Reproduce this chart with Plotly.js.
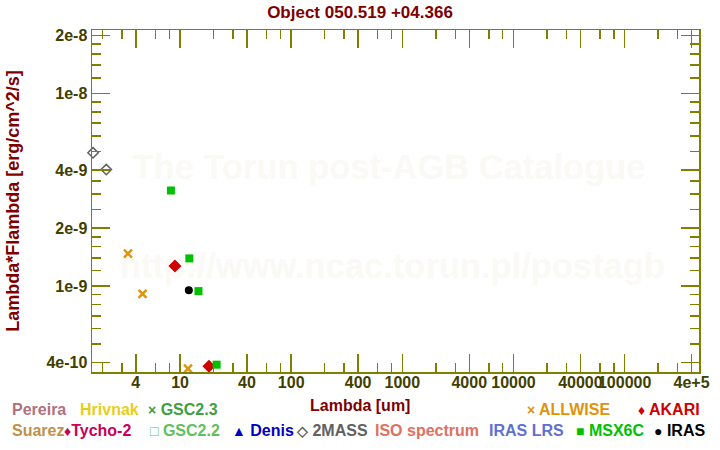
<!DOCTYPE html>
<html>
<head>
<meta charset="utf-8">
<script src="https://cdn.plot.ly/plotly-3.0.1.min.js"></script>
<style>html,body{margin:0;padding:0;background:#fff;}#chart{width:720px;height:450px;}</style>
</head>
<body>
<div id="chart"></div>
<script>
// ---- data ----
var twomassX = [1.65, 2.17];
var twomassY = [4.91e-9, 4.02e-9];
var allwiseX = [3.4, 4.6, 11.8];
var allwiseY = [1.47e-9, 9.1e-10, 3.72e-10];
var akariX = [9.0, 18.2];
var akariY = [1.27e-9, 3.83e-10];
var msxX = [8.28, 12.13, 14.65, 21.34];
var msxY = [3.13e-9, 1.39e-9, 9.4e-10, 3.9e-10];
var irasX = [12.0];
var irasY = [9.5e-10];

var xTickVals = [4, 10, 40, 100, 400, 1000, 4000, 10000, 40000, 100000, 400000];
var xTickText = ['4', '10', '40', '100', '400', '1000', '4000', '10000', '40000', '100000', '4e+5'];
var xMinorVals = [2, 3, 6, 8, 20, 30, 60, 80, 200, 300, 600, 800, 2000, 3000, 6000, 8000,
                  20000, 30000, 60000, 80000, 200000, 300000];
var yTickVals = [4e-10, 1e-9, 2e-9, 4e-9, 1e-8, 2e-8];
var yTickText = ['4e-10', '1e-9', '2e-9', '4e-9', '1e-8', '2e-8'];
var yMinorVals = [5e-10, 6e-10, 7e-10, 8e-10, 9e-10, 1.2e-9, 1.4e-9, 1.6e-9, 1.8e-9,
                  2.5e-9, 3e-9, 3.5e-9, 5e-9, 6e-9, 7e-9, 8e-9, 9e-9,
                  1.2e-8, 1.4e-8, 1.6e-8, 1.8e-8];

var legendRow1 = ['Pereira', 'Hrivnak', '× GSC2.3', '× ALLWISE', '♦ AKARI'];
var legendRow1Colors = ['#b0707f', '#e6cf1a', '#3fa03f', '#e0930a', '#d00000'];
var legendRow2 = ['Suarez', '♦Tycho-2', '□ GSC2.2', '▲ Denis', '◇ 2MASS', 'ISO spectrum', 'IRAS LRS', '■ MSX6C', '● IRAS'];
var legendRow2Colors = ['#c0904a', '#c8005a', '#5fc05f', '#0000c0', '#606060', '#e0705f', '#6070d0', '#00c000', '#000000'];

// ---- geometry helpers ----
var L = 92, R = 699, T = 30, B = 371.7;
function px(x) { return (x - L) / (R - L); }
function py(y) { return (B - y) / (B - T); }

var FONT = 'Liberation Sans, Arial, sans-serif';

var traces = [
  {x: twomassX, y: twomassY, mode: 'markers', type: 'scatter', name: '2MASS', cliponaxis: false,
   marker: {symbol: 'diamond-open', size: 8, color: '#606060', line: {width: 1.5, color: '#606060'}}},
  {x: allwiseX, y: allwiseY, mode: 'markers', type: 'scatter', name: 'ALLWISE', cliponaxis: false,
   marker: {symbol: 'x-thin-open', size: 8, color: '#e0930a', line: {width: 2.4, color: '#e0930a'}}},
  {x: akariX, y: akariY, mode: 'markers', type: 'scatter', name: 'AKARI', cliponaxis: false,
   marker: {symbol: 'diamond', size: 10, color: '#d00000', line: {width: 0}}},
  {x: msxX, y: msxY, mode: 'markers', type: 'scatter', name: 'MSX6C', cliponaxis: false,
   marker: {symbol: 'square', size: 8, color: '#00c000', line: {width: 0}}},
  {x: irasX, y: irasY, mode: 'markers', type: 'scatter', name: 'IRAS', cliponaxis: false,
   marker: {symbol: 'circle', size: 8, color: '#000000', line: {width: 0}}}
];

var wmFont = {family: FONT, size: 34.5, weight: 'bold', color: '#faf9f5'};
var shapes = [
  {type: 'rect', xref: 'paper', yref: 'paper', layer: 'below',
   x0: px(110), x1: px(668), y0: py(185), y1: py(141),
   line: {width: 0}, fillcolor: 'rgba(0,0,0,0)',
   label: {text: '<b>The Torun post-AGB Catalogue</b>', textposition: 'middle center', font: wmFont}},
  {type: 'rect', xref: 'paper', yref: 'paper', layer: 'below',
   x0: px(100), x1: px(685), y0: py(284), y1: py(240),
   line: {width: 0}, fillcolor: 'rgba(0,0,0,0)',
   label: {text: '<b>http://www.ncac.torun.pl/postagb</b>', textposition: 'middle center', font: wmFont}}
];

var annotations = [];
// x axis title
annotations.push({text: 'Lambda [um]', xref: 'paper', yref: 'paper',
  x: px(360), y: py(405), xanchor: 'center', yanchor: 'middle', showarrow: false,
  font: {family: FONT, size: 16, weight: 'bold', color: '#800000'}});

var row1X = [10, 78, 146, 525, 636];
var row2X = [10, 62, 148, 230, 294, 373, 487, 574, 652];
function sym(t) {
  return t.replace(/^([×♦□▲◇■●])/, '<span style="font-size:14px">$1</span>');
}
legendRow1.forEach(function (t, i) {
  annotations.push({text: sym(t), xref: 'paper', yref: 'paper', x: px(row1X[i]), y: py(409),
    xanchor: 'left', yanchor: 'middle', showarrow: false,
    font: {family: FONT, size: 16, weight: 'bold', color: legendRow1Colors[i]}});
});
legendRow2.forEach(function (t, i) {
  annotations.push({text: sym(t), xref: 'paper', yref: 'paper', x: px(row2X[i]), y: py(430),
    xanchor: 'left', yanchor: 'middle', showarrow: false,
    font: {family: FONT, size: 16, weight: 'bold', color: legendRow2Colors[i]}});
});

var axisColor = '#808000';
var tickFont = {family: FONT, size: 16, weight: 'bold', color: '#404000'};

var layout = {
  width: 720, height: 450,
  margin: {l: L, r: 720 - R, t: T, b: 450 - B, pad: 0},
  paper_bgcolor: '#ffffff', plot_bgcolor: '#ffffff',
  showlegend: false,
  title: {text: 'Object 050.519 +04.366', x: 0.5, xref: 'container', xanchor: 'center',
          y: 1 - 12 / 450, yref: 'container', yanchor: 'middle',
          font: {family: FONT, size: 17, weight: 'bold', color: '#800000'}},
  xaxis: {type: 'log', range: [0.208, 5.669], showgrid: false, zeroline: false,
          showline: true, linecolor: axisColor, linewidth: 1.5, mirror: 'allticks',
          ticks: 'inside', ticklen: 18, tickwidth: 1.5, tickcolor: axisColor, tickangle: 0,
          ticklabelstandoff: -5,
          tickmode: 'array', tickvals: xTickVals, ticktext: xTickText, tickfont: tickFont,
          minor: {tickmode: 'array', tickvals: xMinorVals, ticks: 'inside', ticklen: 9,
                  tickwidth: 1.5, tickcolor: axisColor, showgrid: false}},
  yaxis: {type: 'log', range: [-9.447, -7.671], showgrid: false, zeroline: false,
          showline: true, linecolor: axisColor, linewidth: 1.5, mirror: 'allticks',
          ticks: 'inside', ticklen: 18, tickwidth: 1.5, tickcolor: axisColor, tickangle: 0,
          tickmode: 'array', tickvals: yTickVals, ticktext: yTickText, tickfont: tickFont,
          minor: {tickmode: 'array', tickvals: yMinorVals, ticks: 'inside', ticklen: 9,
                  tickwidth: 1.5, tickcolor: axisColor, showgrid: false},
          title: {text: 'Lambda*Flambda [erg/cm^2/s]', standoff: 22,
                  font: {family: FONT, size: 18, weight: 'bold', color: '#800000'}}},
  shapes: shapes,
  annotations: annotations
};

Plotly.newPlot('chart', traces, layout, {displayModeBar: false, staticPlot: true});
</script>
</body>
</html>
